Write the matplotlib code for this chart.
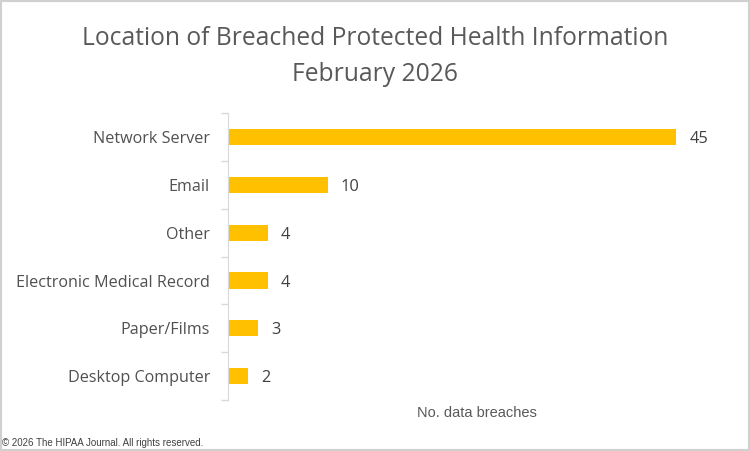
import matplotlib
matplotlib.use('Agg')
import matplotlib.pyplot as plt
import numpy as np
from matplotlib.patches import Rectangle

categories = ["Network Server", "Email", "Other", "Electronic Medical Record",
              "Paper/Films", "Desktop Computer"]
values = [45, 10, 4, 4, 3, 2]

plt.rcParams['font.family'] = ['Open Sans', 'DejaVu Sans']

fig = plt.figure(figsize=(7.5, 4.51), dpi=100)
ax = fig.add_axes([0.304, 0.113, 0.664, 0.636])

y = np.arange(len(categories))
ax.barh(y, values, height=0.34, color='#FFC000')
for yi, v in zip(y, values):
    ax.text(v + 1.3, yi, str(v), va='center_baseline', ha='left', fontsize=11.8, color='#404040')

ax.set_ylim(len(categories) - 0.5, -0.5)
ax.set_xlim(0, 50)
ax.set_yticks(y)
ax.set_yticklabels(categories, fontsize=11.6, color='#505050')
ax.tick_params(axis='y', which='major', length=0, pad=13)
ax.set_yticks(np.arange(-0.5, len(categories)), minor=True)
ax.tick_params(axis='y', which='minor', length=5, color='#d9d9d9', width=1)
ax.set_xticks([])
for s in ['top', 'right', 'bottom']:
    ax.spines[s].set_visible(False)
ax.spines['left'].set_color('#d9d9d9')

ax.set_xlabel("No. data breaches", fontsize=10.5, color='#595959', labelpad=4,
              family=['Liberation Sans Narrow', 'Liberation Sans', 'DejaVu Sans'])

fig.text(0.5, 0.875, "Location of Breached Protected Health Information\nFebruary 2026",
         ha='center', va='center', fontsize=17.7, color='#595959', linespacing=1.55)

fig.text(0.003, 0.012, "\u00a9 2026 The HIPAA Journal. All rights reserved.",
         fontsize=7, color='#404040', family=['Liberation Sans', 'DejaVu Sans'])

fig.patches.append(Rectangle((0, 0), 1, 1, transform=fig.transFigure, fill=False,
                             edgecolor='#d0d0d0', linewidth=3))

fig.savefig('out.png', dpi=100)
